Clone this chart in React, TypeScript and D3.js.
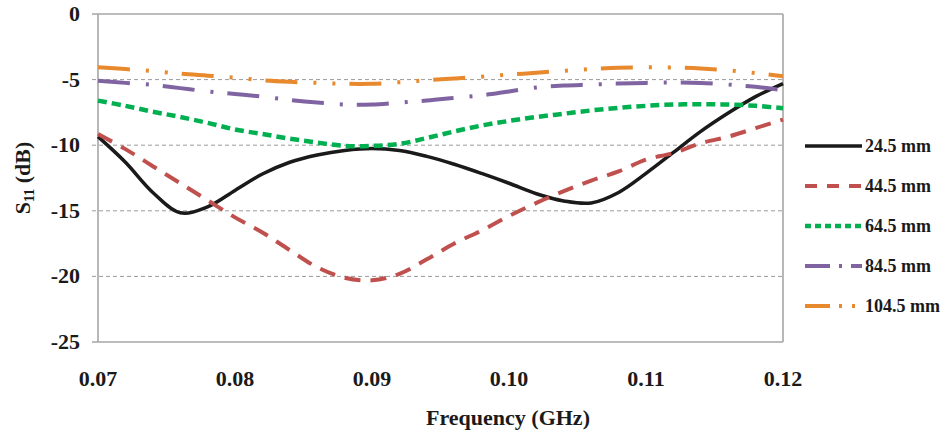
import React from 'react';
import * as d3 from 'd3';

// frequency samples (GHz)
const freq = [
  0.070, 0.072, 0.074, 0.076, 0.078, 0.080, 0.082, 0.084, 0.086, 0.088, 0.090, 0.092, 0.094,
  0.096, 0.098, 0.100, 0.102, 0.104, 0.106, 0.108, 0.110, 0.112, 0.114, 0.116, 0.118, 0.120,
];

// S11 (dB) for each slot length
const s245 = [
  -9.35, -11.3, -13.6, -15.15, -14.7, -13.45, -12.2, -11.3, -10.75, -10.4, -10.25, -10.4, -10.85,
  -11.45, -12.15, -12.9, -13.7, -14.25, -14.4, -13.6, -12.15, -10.55, -8.95, -7.55, -6.3, -5.3,
];
const s445 = [
  -9.15, -10.3, -11.6, -12.9, -14.2, -15.5, -16.65, -18.0, -19.3, -20.1, -20.3, -19.8, -18.7,
  -17.5, -16.5, -15.4, -14.4, -13.5, -12.7, -12.0, -11.1, -10.6, -9.85, -9.35, -8.7, -8.05,
];
const s645 = [
  -6.6, -7.0, -7.45, -7.85, -8.3, -8.8, -9.15, -9.5, -9.8, -10.05, -10.05, -9.9, -9.45,
  -8.95, -8.5, -8.15, -7.85, -7.6, -7.35, -7.15, -7.0, -6.9, -6.88, -6.9, -7.0, -7.18,
];
const s845 = [
  -5.08, -5.25, -5.4, -5.65, -5.9, -6.1, -6.3, -6.55, -6.75, -6.9, -6.9, -6.75, -6.6,
  -6.4, -6.2, -5.9, -5.6, -5.45, -5.38, -5.3, -5.25, -5.22, -5.25, -5.38, -5.55, -5.8,
];
const s1045 = [
  -4.05, -4.2, -4.35, -4.55, -4.7, -4.85, -5.05, -5.17, -5.25, -5.32, -5.32, -5.2, -5.05,
  -4.92, -4.78, -4.62, -4.48, -4.33, -4.2, -4.1, -4.06, -4.08, -4.15, -4.3, -4.5, -4.75,
];

const seriesNames = ['24.5 mm', '44.5 mm', '64.5 mm', '84.5 mm', '104.5 mm'];
const xTicks = [0.07, 0.08, 0.09, 0.10, 0.11, 0.12];
const yTicks = [0, -5, -10, -15, -20, -25];

const styles = [
  { color: '#1a1a1a', width: 3.5, dash: null, legendDash: null },
  { color: '#c0504d', width: 4, dash: '16 10', legendDash: '12 10' },
  { color: '#00b050', width: 4.5, dash: '9 5', legendDash: '6 4' },
  { color: '#8064a2', width: 4, dash: '32 16 3 14', legendDash: '25 9 3 9' },
  { color: '#e8892e', width: 4, dash: '32 16 3 16 3 14', legendDash: '25 9 3 10 3 10' },
];

const W = 946;
const H = 437;
const left = 98;
const right = 783;
const top = 14;
const bottom = 342;
const font = "'Liberation Serif', 'Times New Roman', serif";

export default function App() {
  const x = d3.scaleLinear().domain([0.07, 0.12]).range([left, right]);
  const y = d3.scaleLinear().domain([0, -25]).range([top, bottom]);

  const series = [s245, s445, s645, s845, s1045];
  const line = d3
    .line<number>()
    .x((_, i) => x(freq[i]))
    .y((d) => y(d))
    .curve(d3.curveCatmullRom.alpha(0.5));

  return (
    <svg width={W} height={H} style={{ position: 'absolute', left: 0, top: 0, background: '#fff' }}>
      {/* grid + y ticks */}
      {yTicks.map((t) => {
        const edge = t === 0 || t === -25;
        return (
          <g key={t}>
            <line
              x1={left - 6}
              x2={right}
              y1={y(t)}
              y2={y(t)}
              stroke={edge ? '#a6a6a6' : '#9a9a9a'}
              strokeWidth={edge ? 1.6 : 1}
              strokeDasharray={edge ? undefined : '4 3'}
            />
            <text
              x={80}
              y={y(t) + 7}
              textAnchor="end"
              fontFamily={font}
              fontWeight="bold"
              fontSize={22}
              fill="#1a1a1a"
            >
              {t}
            </text>
          </g>
        );
      })}
      <line x1={left} x2={left} y1={top} y2={bottom} stroke="#a6a6a6" strokeWidth={1.6} />
      <line x1={right} x2={right} y1={top} y2={bottom} stroke="#a6a6a6" strokeWidth={1.6} />

      {/* x tick labels */}
      {xTicks.map((t) => (
        <text
          key={t}
          x={x(t)}
          y={386}
          textAnchor="middle"
          fontFamily={font}
          fontWeight="bold"
          fontSize={22}
          fill="#1a1a1a"
        >
          {t.toFixed(2)}
        </text>
      ))}

      {/* curves */}
      {series.map((s, i) => (
        <path
          key={seriesNames[i]}
          d={line(s) || ''}
          fill="none"
          stroke={styles[i].color}
          strokeWidth={styles[i].width}
          strokeDasharray={styles[i].dash || undefined}
          strokeLinejoin="round"
        />
      ))}

      {/* axis titles */}
      <text
        x={508}
        y={425}
        textAnchor="middle"
        fontFamily={font}
        fontWeight="bold"
        fontSize={22}
        fill="#1a1a1a"
      >
        Frequency (GHz)
      </text>
      <text
        transform="translate(30,178) rotate(-90)"
        textAnchor="middle"
        fontFamily={font}
        fontWeight="bold"
        fontSize={22}
        fill="#1a1a1a"
      >
        S<tspan fontSize={14} dy={4}>11</tspan>
        <tspan dy={-4}> (dB)</tspan>
      </text>

      {/* legend */}
      {seriesNames.map((name, i) => {
        const ly = 146 + i * 40;
        return (
          <g key={name}>
            <line
              x1={805}
              x2={862}
              y1={ly}
              y2={ly}
              stroke={styles[i].color}
              strokeWidth={styles[i].width}
              strokeDasharray={styles[i].legendDash || undefined}
            />
            <text
              x={865}
              y={ly + 6}
              fontFamily={font}
              fontWeight="bold"
              fontSize={18}
              fill="#1a1a1a"
            >
              {name}
            </text>
          </g>
        );
      })}
    </svg>
  );
}
